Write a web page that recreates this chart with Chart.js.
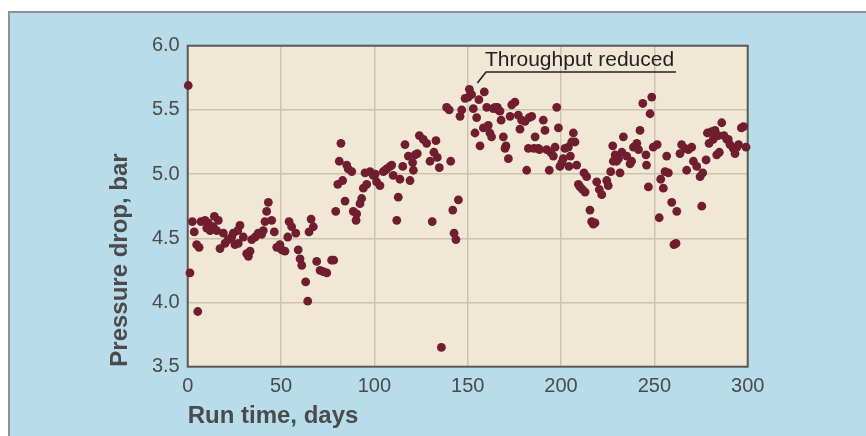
<!DOCTYPE html>
<html>
<head>
<meta charset="utf-8">
<title>Pressure drop vs run time</title>
<script src="https://cdn.jsdelivr.net/npm/chart.js@4.4.1/dist/chart.umd.min.js"></script>
<style>
    html, body { margin: 0; padding: 0; background: #ffffff; }
    #wrap { position: relative; width: 866px; height: 436px; overflow: hidden; }
    #panel {
        position: absolute; left: 8px; top: 11px; right: 0; bottom: 0;
        background: #b8dcea;
        border-top: 2px solid #8e9091;
        border-left: 2px solid #8e9091;
    }
    #chart { position: absolute; left: 0; top: 0; }
</style>
</head>
<body>
<div id="wrap">
    <div id="panel"></div>
    <canvas id="chart" width="866" height="436"></canvas>
</div>
<script>
// run time, days
const runDays = [
    0.3, 1.2, 2.5, 3.5, 4.8, 5.4, 6.1, 7.1, 9.3, 10.2, 11.0, 12.0, 13.7, 14.3, 15.5, 16.4, 17.3, 19.1, 20.0, 21.7,
    23.6, 24.4, 25.3, 26.8, 27.1, 28.0, 29.8, 31.6, 32.5, 33.4, 34.3, 36.1, 37.8, 39.6, 40.5, 41.4, 42.3, 43.2, 45.0, 46.4,
    47.7, 49.4, 50.4, 52.1, 53.6, 54.3, 55.7, 57.9, 59.2, 60.2, 61.1, 63.2, 64.3, 65.0, 66.1, 67.3, 69.1, 70.9, 72.6, 74.5,
    77.1, 78.2, 79.3, 80.4, 81.2, 82.1, 83.0, 84.3, 85.2, 86.0, 87.9, 88.7, 90.2, 90.5, 92.3, 93.2, 94.1, 95.0, 95.9, 97.7,
    99.4, 100.5, 101.2, 103.0, 104.8, 105.8, 106.6, 108.4, 109.3, 110.1, 112.0, 112.8, 113.7, 115.2, 116.4, 118.2, 119.1, 120.5, 120.9, 121.8,
    123.0, 124.1, 126.2, 128.0, 129.8, 131.0, 131.9, 133.0, 133.7, 134.8, 135.9, 138.7, 140.1, 140.9, 142.0, 142.7, 143.7, 145.0, 145.9, 146.8,
    148.6, 150.3, 150.9, 152.1, 153.0, 153.9, 154.8, 156.0, 156.6, 158.4, 158.9, 160.2, 161.0, 161.9, 162.8, 163.7, 164.6, 165.9, 166.4, 167.3,
    167.9, 169.1, 170.0, 170.5, 171.8, 172.7, 173.6, 175.3, 177.1, 178.0, 178.9, 180.7, 181.6, 182.5, 182.9, 184.3, 185.5, 186.1, 187.8, 188.4,
    190.5, 191.4, 192.3, 193.7, 194.5, 195.9, 196.8, 197.7, 198.6, 199.4, 200.4, 201.2, 202.1, 203.9, 204.2, 205.0, 205.7, 206.6, 207.5, 208.4,
    209.3, 210.2, 211.5, 212.3, 212.9, 213.7, 215.5, 216.4, 217.3, 218.2, 219.1, 220.5, 221.8, 224.5, 225.3, 226.6, 227.7, 228.0, 229.0, 229.8,
    230.8, 231.6, 232.6, 233.4, 235.2, 237.0, 237.8, 238.8, 240.6, 241.5, 242.3, 243.8, 245.5, 245.8, 246.8, 247.7, 248.6, 249.4, 251.5, 252.6,
    253.4, 254.8, 255.7, 256.6, 257.5, 259.3, 260.5, 261.6, 262.0, 263.7, 264.6, 266.4, 267.3, 268.2, 270.0, 270.9, 272.7, 274.5, 275.4, 275.9,
    277.7, 278.4, 279.3, 280.7, 281.5, 282.5, 283.4, 284.2, 284.8, 286.1, 287.3, 288.8, 289.6, 290.5, 292.3, 293.2, 294.2, 295.1, 296.6, 297.8,
    299.1
];

// pressure drop, bar (same order as runDays)
const pressureDrop = [
    5.69, 4.23, 4.63, 4.55, 4.45, 3.93, 4.43, 4.63, 4.64, 4.58, 4.62, 4.56, 4.59, 4.67, 4.56, 4.64, 4.42, 4.54, 4.46, 4.49,
    4.51, 4.54, 4.45, 4.56, 4.46, 4.60, 4.51, 4.38, 4.36, 4.40, 4.49, 4.51, 4.54, 4.53, 4.56, 4.63, 4.71, 4.78, 4.64, 4.55,
    4.43, 4.45, 4.41, 4.40, 4.51, 4.63, 4.59, 4.54, 4.41, 4.34, 4.29, 4.16, 4.01, 4.55, 4.65, 4.59, 4.32, 4.25, 4.24, 4.23,
    4.33, 4.33, 4.71, 4.92, 5.10, 5.24, 4.95, 4.79, 5.07, 5.04, 5.02, 4.71, 4.64, 4.69, 4.77, 4.81, 4.89, 5.01, 4.92, 5.02,
    4.99, 5.00, 4.94, 4.91, 5.02, 5.03, 5.04, 5.06, 5.07, 4.99, 4.64, 4.82, 4.96, 5.06, 5.23, 5.14, 4.95, 5.09, 5.03, 5.15,
    5.16, 5.30, 5.27, 5.24, 5.10, 4.63, 5.17, 5.26, 5.13, 5.05, 3.65, 5.52, 5.50, 5.10, 4.72, 4.54, 4.49, 4.80, 5.45, 5.50,
    5.59, 5.60, 5.66, 5.62, 5.51, 5.32, 5.44, 5.58, 5.22, 5.36, 5.64, 5.52, 5.38, 5.32, 5.29, 5.51, 5.52, 5.52, 5.50, 5.49,
    5.42, 5.29, 5.20, 5.22, 5.12, 5.45, 5.54, 5.56, 5.46, 5.35, 5.42, 5.41, 5.03, 5.20, 5.44, 5.45, 5.20, 5.29, 5.20, 5.19,
    5.42, 5.34, 5.19, 5.03, 5.17, 5.14, 5.21, 5.52, 5.36, 5.06, 5.09, 5.12, 5.20, 5.21, 5.06, 5.14, 5.25, 5.32, 5.25, 5.07,
    4.92, 4.90, 4.88, 5.01, 4.86, 4.98, 4.72, 4.63, 4.61, 4.62, 4.94, 4.88, 4.84, 4.95, 4.91, 5.02, 5.22, 5.10, 5.15, 5.10,
    5.12, 5.01, 5.17, 5.29, 5.14, 5.08, 5.10, 5.21, 5.24, 5.19, 5.34, 5.55, 5.15, 5.07, 4.90, 5.47, 5.60, 5.21, 5.23, 4.66,
    4.96, 4.89, 5.02, 5.14, 5.01, 4.78, 4.45, 4.46, 4.71, 5.16, 5.23, 5.20, 5.03, 5.19, 5.21, 5.10, 5.06, 4.98, 4.75, 5.01,
    5.11, 5.32, 5.24, 5.33, 5.27, 5.34, 5.15, 5.30, 5.17, 5.40, 5.30, 5.27, 5.27, 5.23, 5.20, 5.16, 5.21, 5.23, 5.36, 5.37,
    5.21
];

// tick labels
const xTicks = [0, 50, 100, 150, 200, 250, 300];
const yTicks = [3.5, 4.0, 4.5, 5.0, 5.5, 6.0];

// annotation, anchored in data units
const noteText = 'Throughput reduced';
const noteStart = { x: 159.8, y: 5.795 };   // left end of underline
const noteEnd = { x: 261.6 };               // right end of underline
const noteTip = { x: 155.2, y: 5.71 };      // end of leader line

const FONT = '"Liberation Sans", Arial, Helvetica, sans-serif';
const INK = '#4b4b4b';

const plotFrame = {
    id: 'plotFrame',
    beforeDraw(chart) {
        const { ctx, chartArea: a } = chart;
        ctx.save();
        ctx.fillStyle = '#f0e8d4';
        ctx.fillRect(a.left, a.top, a.right - a.left, a.bottom - a.top);
        ctx.restore();
    },
    beforeDatasetsDraw(chart) {
        const { ctx, chartArea: a } = chart;
        ctx.save();
        ctx.strokeStyle = '#595959';
        ctx.lineWidth = 2;
        ctx.strokeRect(a.left, a.top, a.right - a.left, a.bottom - a.top);
        ctx.restore();
    },
    afterDraw(chart) {
        const { ctx } = chart;
        const xs = chart.scales.x, ys = chart.scales.y;
        const x0 = xs.getPixelForValue(noteStart.x);
        const y0 = ys.getPixelForValue(noteStart.y);
        const x1 = xs.getPixelForValue(noteEnd.x);
        const xt = xs.getPixelForValue(noteTip.x);
        const yt = ys.getPixelForValue(noteTip.y);
        ctx.save();
        ctx.strokeStyle = '#222222';
        ctx.lineWidth = 1.6;
        ctx.beginPath();
        ctx.moveTo(xt, yt);
        ctx.lineTo(x0, y0);
        ctx.lineTo(x1, y0);
        ctx.stroke();
        ctx.fillStyle = '#222222';
        ctx.font = '21px ' + FONT;
        ctx.textAlign = 'left';
        ctx.textBaseline = 'alphabetic';
        ctx.fillText(noteText, x0 - 1, y0 - 6);
        ctx.restore();
    }
};

const points = runDays.map((d, i) => ({ x: d, y: pressureDrop[i] }));

new Chart(document.getElementById('chart'), {
    type: 'scatter',
    data: {
        datasets: [{
            data: points,
            backgroundColor: '#6f1d2f',
            borderColor: '#6f1d2f',
            borderWidth: 0,
            pointRadius: 4.4,
            pointHoverRadius: 4.4,
            clip: false
        }]
    },
    options: {
        responsive: false,
        animation: false,
        events: [],
        layout: { padding: { left: 0, top: 45.7, right: 118.3, bottom: 0 } },
        plugins: {
            legend: { display: false },
            tooltip: { enabled: false }
        },
        scales: {
            x: {
                type: 'linear',
                min: 0,
                max: 300,
                afterBuildTicks(scale) { scale.ticks = xTicks.map(v => ({ value: v })); },
                afterFit(scale) { scale.height = 436 - 366.7; },
                border: { display: false },
                grid: { color: '#cdc2ae', lineWidth: 1.5, drawTicks: false },
                ticks: {
                    padding: 8,
                    color: INK,
                    font: { family: FONT, size: 20 },
                    maxRotation: 0,
                    callback: v => String(v)
                },
                title: {
                    display: true,
                    text: 'Run time, days',
                    align: 'start',
                    color: INK,
                    font: { family: FONT, size: 24, weight: 'bold' },
                    padding: { top: 0, bottom: 4.9 }
                }
            },
            y: {
                type: 'linear',
                min: 3.5,
                max: 6.0,
                afterBuildTicks(scale) { scale.ticks = yTicks.map(v => ({ value: v })); },
                afterFit(scale) { scale.width = 187.7; },
                border: { display: false },
                grid: { color: '#cdc2ae', lineWidth: 1.5, drawTicks: false },
                ticks: {
                    padding: 8,
                    color: INK,
                    font: { family: FONT, size: 20 },
                    callback: v => v.toFixed(1)
                },
                title: {
                    display: true,
                    text: 'Pressure drop, bar',
                    align: 'start',
                    color: INK,
                    font: { family: FONT, size: 24, weight: 'bold' },
                    padding: { top: 105.6, bottom: 0 }
                }
            }
        }
    },
    plugins: [plotFrame]
});
</script>
</body>
</html>
